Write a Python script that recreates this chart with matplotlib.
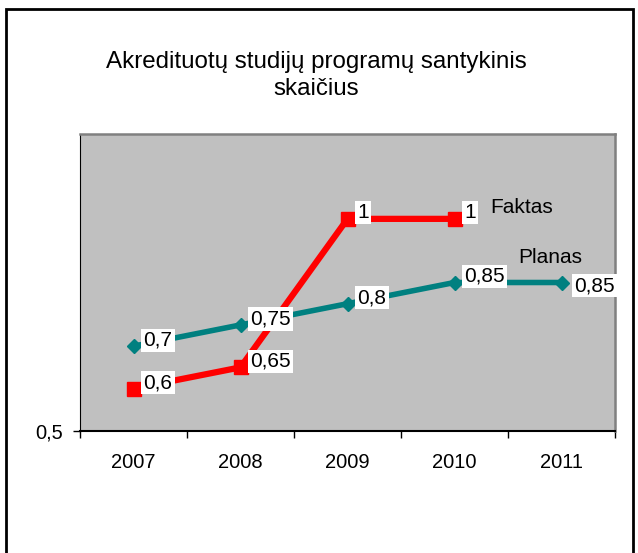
import matplotlib
matplotlib.use("Agg")
import matplotlib.pyplot as plt
from matplotlib.patches import Rectangle
from matplotlib.ticker import FixedLocator

plt.rcParams['font.family'] = ['Liberation Sans', 'DejaVu Sans']

years = ["2007", "2008", "2009", "2010", "2011"]
faktas = [0.6, 0.65, 1.0, 1.0]
planas = [0.7, 0.75, 0.8, 0.85, 0.85]
faktas_labels = ["0,6", "0,65", "1", "1"]
planas_labels = ["0,7", "0,75", "0,8", "0,85", "0,85"]

fig = plt.figure(figsize=(6.38, 5.53), dpi=100)
ax = fig.add_axes([80 / 638, 1 - 431 / 553, 535 / 638, 297 / 553])
ax.set_facecolor("#C0C0C0")

x_pl = list(range(len(planas)))
x_fk = list(range(len(faktas)))

ax.plot(x_pl, planas, color="#008080", lw=4, marker="D", ms=7.5, zorder=3)
ax.plot(x_fk, faktas, color="#FF0000", lw=4.5, marker="s", ms=10, zorder=4)

# data labels on white boxes
box = dict(boxstyle="square,pad=0.1", fc="white", ec="none")
for xi, v, s in zip(x_pl, planas, planas_labels):
    # last point sits at the edge, label goes right and a bit lower
    off = (13, -3) if xi == x_pl[-1] else (10, 6)
    ax.annotate(s, (xi, v), xytext=off, textcoords="offset pixels",
                ha="left", va="center", fontsize=15, bbox=box, zorder=5)
for xi, v, s in zip(x_fk, faktas, faktas_labels):
    ax.annotate(s, (xi, v), xytext=(10, 6), textcoords="offset pixels",
                ha="left", va="center", fontsize=15, bbox=box, zorder=5)

# series names
ax.text(3.33, 1.026, "Faktas", fontsize=15, ha="left", va="center")
ax.text(3.6, 0.91, "Planas", fontsize=15, ha="left", va="center", zorder=6)

ax.set_xlim(-0.5, 4.5)
ax.set_ylim(0.5, 1.2)

ax.xaxis.set_major_locator(FixedLocator(x_pl))
ax.set_xticklabels(years)
ax.xaxis.set_minor_locator(FixedLocator([i - 0.5 for i in range(len(years) + 1)]))
ax.tick_params(axis="x", which="major", length=0, pad=16, labelsize=14.5)
ax.tick_params(axis="x", which="minor", length=5, width=1, direction="out")

ax.set_yticks([0.5])
ax.set_yticklabels(["0,5"])
ax.tick_params(axis="y", length=5, width=1, pad=7, labelsize=14.5)

ax.spines["left"].set_color("black")
ax.spines["bottom"].set_color("black")
ax.spines["bottom"].set_linewidth(1.5)
for s in ("top", "right"):
    ax.spines[s].set_color("#808080")
    ax.spines[s].set_linewidth(1.8)

fig.text(316 / 638, 1 - 51 / 553, "Akredituotų studijų programų santykinis\nskaičius",
         ha="center", va="top", fontsize=17.4, linespacing=1.3)

# outer chart border (bottom edge falls outside the picture)
fig.patches.append(Rectangle((6 / 638, -0.1), 627 / 638, 1.1 - 9 / 553,
                             transform=fig.transFigure, fill=False,
                             ec="black", lw=2))

fig.savefig("out.png", dpi=100)
